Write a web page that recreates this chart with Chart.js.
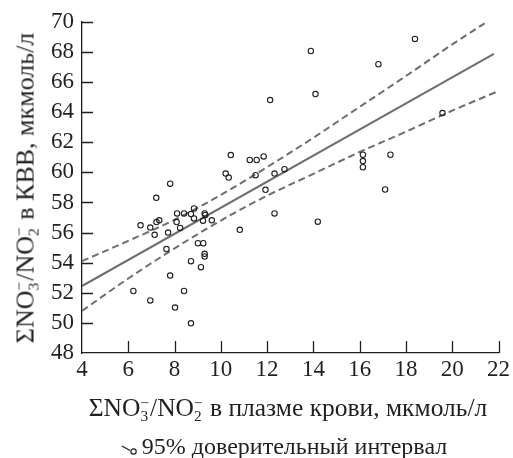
<!DOCTYPE html>
<html>
<head>
<meta charset="utf-8">
<script src="https://cdn.jsdelivr.net/npm/chart.js@4"></script>
<style>
    html, body { margin: 0; padding: 0; background: #fff; }
    #wrap { position: relative; width: 513px; height: 458px; font-family: "Liberation Serif", "DejaVu Serif", serif; color: #231f20; }
    #wrap canvas { position: absolute; left: 0; top: 0; }
    .ttl { position: absolute; white-space: nowrap; line-height: 1; }
    .ion { display: inline-block; vertical-align: -0.3em; font-size: 0.6em; line-height: 0.85; text-align: left; margin-right: 1px; }
    .ion span { display: block; }
    #xTitle { left: 0; width: 576px; text-align: center; top: 395px; font-size: 25.5px; }
    #yTitle { left: 26px; top: 188px; font-size: 26px; transform: translate(-50%, -50%) rotate(-90deg); }
    #legend { left: 0; width: 568px; text-align: center; top: 434px; font-size: 24px; }
    #legend svg { vertical-align: -1px; margin-right: 4px; }
</style>
</head>
<body>
<div id="wrap">
    <canvas id="scatterChart" width="513" height="458"></canvas>
    <div class="ttl" id="yTitle">ΣNO<span class="ion"><span>−</span><span>3</span></span>/NO<span class="ion"><span>−</span><span>2</span></span> в КВВ, мкмоль/л</div>
    <div class="ttl" id="xTitle">ΣNO<span class="ion"><span>−</span><span>3</span></span>/NO<span class="ion"><span>−</span><span>2</span></span> в плазме крови, мкмоль/л</div>
    <div class="ttl" id="legend"><svg width="17" height="12"><line x1="1" y1="3" x2="9" y2="7.5" stroke="#231f20" stroke-width="1.3"/><circle cx="12.5" cy="8.5" r="2.7" fill="none" stroke="#231f20" stroke-width="1.2"/></svg>95% доверительный интервал</div>
</div>
<script>
// измерения (плазма, КВВ)
const plasma = [6.53, 6.95, 7.14, 7.21, 7.22, 7.34, 7.72, 7.81, 7.65, 7.81, 6.22, 6.95, 8.02, 8.41,
    8.71, 8.71, 9.14, 9.01, 9.24, 9.30, 9.30, 8.11, 8.09, 8.24, 8.41, 8.71, 8.84, 8.84, 9.23, 9.30,
    9.33, 9.61, 10.82, 10.21, 10.34, 10.43, 11.25, 11.55, 11.85, 11.50, 11.93, 12.32, 12.32, 12.75,
    12.13, 13.89, 14.09, 16.81, 18.39, 19.58, 16.14, 16.14, 16.14, 17.33, 17.10, 14.19];
const kvv = [56.48, 56.33, 55.85, 58.31, 56.70, 56.81, 56.00, 59.25, 54.90, 53.14, 52.12, 51.49, 51.02, 52.12,
    49.97, 54.10, 53.70, 55.29, 55.29, 54.59, 54.41, 57.27, 56.70, 56.31, 57.27, 57.23, 57.60, 56.94, 56.79, 57.27,
    57.17, 56.81, 56.18, 59.92, 59.65, 61.15, 60.82, 60.82, 61.06, 59.81, 58.84, 59.92, 57.27, 60.21,
    64.80, 68.06, 65.20, 67.18, 68.86, 63.94, 61.17, 60.75, 60.34, 61.17, 58.86, 56.72];

// линия регрессии
const fitX = [4, 21.8];
const fitY = [52.45, 67.87];

// 95% доверительный интервал
const upperX = [4, 6, 8, 10, 12, 14, 16, 18, 20, 21.4];
const upperY = [54.1, 55.45, 56.85, 58.5, 60.35, 62.3, 64.35, 66.4, 68.5, 69.9];
const lowerX = [4, 6, 8, 10, 12, 14, 16, 18, 20, 22];
const lowerY = [50.8, 52.95, 54.95, 56.8, 58.45, 59.9, 61.35, 62.7, 64.1, 65.4];

const xTicks = [4, 6, 8, 10, 12, 14, 16, 18, 20, 22];
const yTicks = [48, 50, 52, 54, 56, 58, 60, 62, 64, 66, 68, 70];

const ink = "#231f20";
const lineGray = "#6d6e70";

function pairs(xs, ys) {
    return xs.map((x, i) => ({ x: x, y: ys[i] }));
}

// внутренние засечки осей
const innerTicks = {
    id: "innerTicks",
    afterDraw(chart) {
        const ctx = chart.ctx;
        const sx = chart.scales.x;
        const sy = chart.scales.y;
        const area = chart.chartArea;
        ctx.save();
        ctx.strokeStyle = ink;
        ctx.lineWidth = 1.3;
        ctx.beginPath();
        xTicks.slice(1).forEach((v) => {
            const px = Math.round(sx.getPixelForValue(v)) + 0.5;
            ctx.moveTo(px, area.bottom);
            ctx.lineTo(px, area.bottom - 12);
        });
        yTicks.slice(1).forEach((v) => {
            const py = Math.round(sy.getPixelForValue(v)) + 0.5;
            ctx.moveTo(area.left, py);
            ctx.lineTo(area.left + 11, py);
        });
        ctx.stroke();
        ctx.restore();
    },
};

const ctx = document.getElementById("scatterChart").getContext("2d");
new Chart(ctx, {
    type: "scatter",
    data: {
        datasets: [
            {
                data: pairs(plasma, kvv),
                pointRadius: 2.7,
                pointBorderWidth: 1.1,
                pointBorderColor: ink,
                pointBackgroundColor: "rgba(0,0,0,0)",
            },
            {
                data: pairs(fitX, fitY),
                showLine: true,
                borderColor: lineGray,
                borderWidth: 2,
                pointRadius: 0,
            },
            {
                data: pairs(upperX, upperY),
                showLine: true,
                borderColor: lineGray,
                borderWidth: 2,
                borderDash: [7, 4],
                cubicInterpolationMode: "monotone",
                pointRadius: 0,
            },
            {
                data: pairs(lowerX, lowerY),
                showLine: true,
                borderColor: lineGray,
                borderWidth: 2,
                borderDash: [7, 4],
                cubicInterpolationMode: "monotone",
                pointRadius: 0,
            },
        ],
    },
    options: {
        responsive: false,
        animation: false,
        layout: {
            padding: { top: 20, right: 13, left: 0, bottom: 0 },
        },
        plugins: {
            legend: { display: false },
            tooltip: { enabled: false },
        },
        scales: {
            x: {
                type: "linear",
                min: 4,
                max: 22,
                afterFit: (scale) => { scale.height = 105; },
                afterBuildTicks: (scale) => { scale.ticks = xTicks.map((v) => ({ value: v })); },
                border: { color: ink, width: 1.3 },
                grid: { drawOnChartArea: false, drawTicks: false },
                ticks: {
                    color: ink,
                    padding: 3,
                    autoSkip: false,
                    maxRotation: 0,
                    font: { family: "Liberation Serif", size: 23 },
                },
            },
            y: {
                type: "linear",
                min: 48,
                max: 70,
                afterFit: (scale) => { scale.width = 82; },
                afterBuildTicks: (scale) => { scale.ticks = yTicks.map((v) => ({ value: v })); },
                border: { color: ink, width: 1.3 },
                grid: { drawOnChartArea: false, drawTicks: false },
                ticks: {
                    color: ink,
                    padding: 8,
                    autoSkip: false,
                    font: { family: "Liberation Serif", size: 23 },
                },
            },
        },
    },
    plugins: [innerTicks],
});
</script>
</body>
</html>
